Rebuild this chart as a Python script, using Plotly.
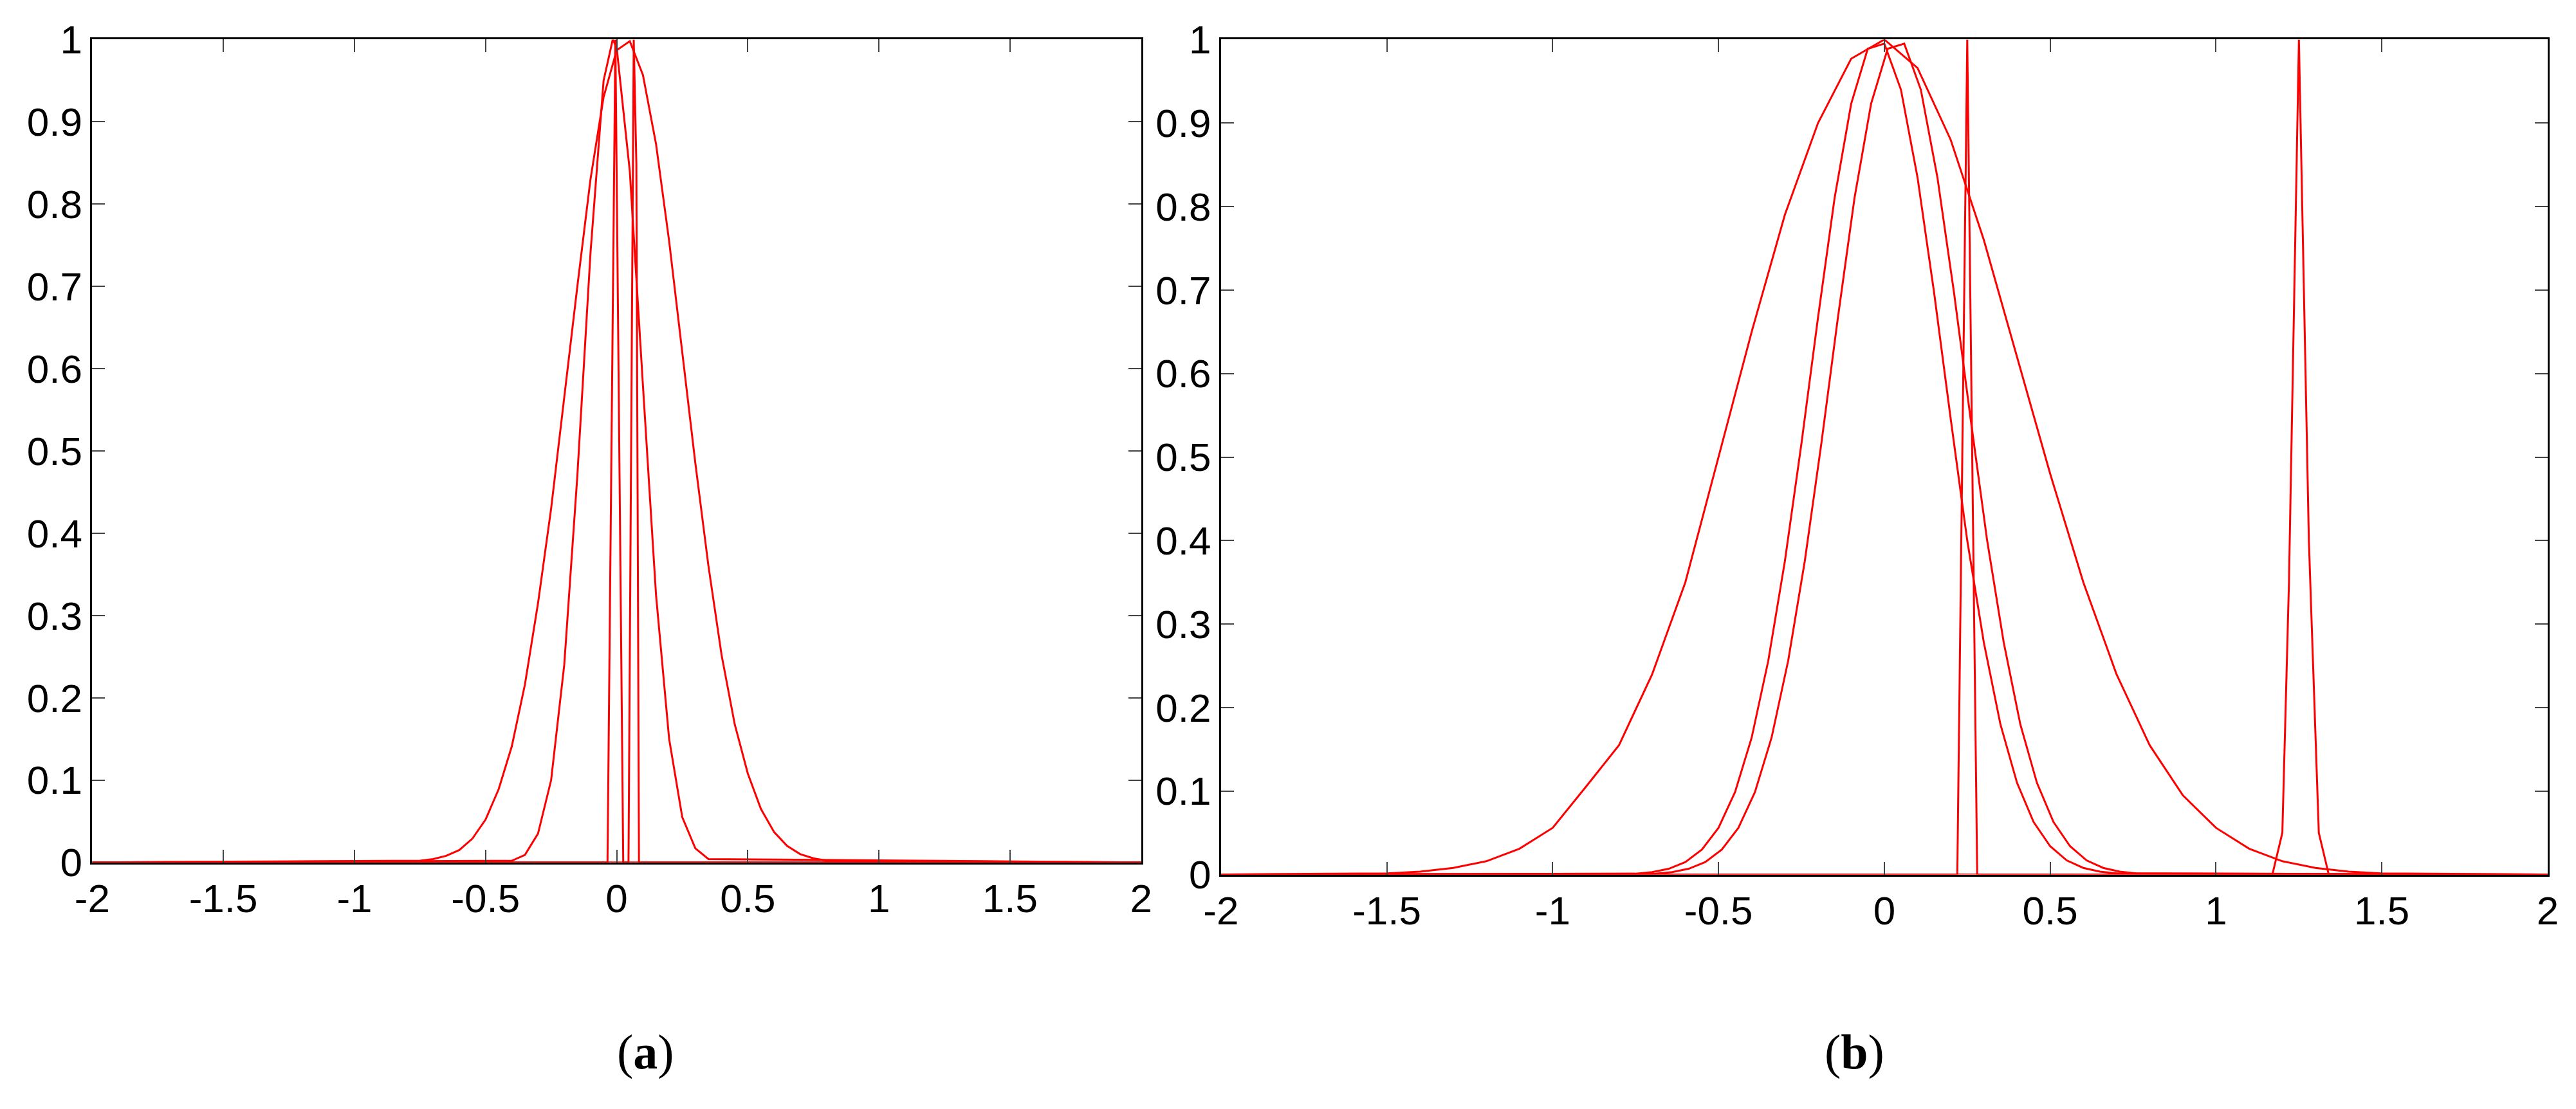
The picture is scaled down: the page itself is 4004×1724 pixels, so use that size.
import plotly.graph_objects as go

# Panel (a)
a1_x = [-2, -0.75, -0.70, -0.65, -0.60, -0.55, -0.50, -0.45, -0.40, -0.35, -0.30, -0.25, -0.20, -0.15, -0.10, -0.05, 0, 0.05, 0.10, 0.15, 0.20, 0.25, 0.30, 0.35, 0.40, 0.45, 0.50, 0.55, 0.60, 0.65, 0.70, 0.75, 0.80, 2]
a1_y = [0, 0.002, 0.004, 0.008, 0.015, 0.029, 0.052, 0.089, 0.141, 0.216, 0.315, 0.43, 0.565, 0.70, 0.83, 0.93, 0.987, 0.998, 0.957, 0.873, 0.755, 0.62, 0.485, 0.36, 0.252, 0.168, 0.108, 0.065, 0.037, 0.020, 0.010, 0.005, 0.002, 0]
a2_x = [-2, -0.40, -0.35, -0.30, -0.25, -0.20, -0.15, -0.10, -0.05, -0.015, 0, 0.05, 0.10, 0.15, 0.20, 0.25, 0.30, 0.35, 2]
a2_y = [0, 0.002, 0.009, 0.035, 0.10, 0.24, 0.47, 0.74, 0.95, 1.0, 0.99, 0.84, 0.58, 0.325, 0.15, 0.055, 0.017, 0.004, 0]
a3_x = [-2, -0.035, -0.02, -0.005, 0.01, 0.025, 2]
a3_y = [0, 0, 0.5, 1, 0.5, 0, 0]
a4_x = [-2, 0.045, 0.055, 0.065, 0.075, 0.085, 2]
a4_y = [0, 0, 0.5, 1, 0.85, 0, 0]

# Panel (b)
b1_x = [-2, -1.5, -1.4, -1.3, -1.2, -1.1, -1.0, -0.9, -0.8, -0.7, -0.6, -0.5, -0.4, -0.3, -0.2, -0.1, 0, 0.1, 0.2, 0.3, 0.4, 0.5, 0.6, 0.7, 0.8, 0.9, 1.0, 1.1, 1.2, 1.3, 1.4, 1.5, 2]
b1_y = [0, 0.0015, 0.0035, 0.008, 0.016, 0.031, 0.056, 0.105, 0.155, 0.24, 0.35, 0.50, 0.65, 0.79, 0.90, 0.977, 1.0, 0.966, 0.88, 0.76, 0.62, 0.48, 0.35, 0.24, 0.155, 0.095, 0.056, 0.031, 0.016, 0.008, 0.0035, 0.0015, 0]
b2_x = [-2, -0.80, -0.75, -0.70, -0.65, -0.60, -0.55, -0.50, -0.45, -0.40, -0.35, -0.30, -0.25, -0.20, -0.15, -0.10, -0.05, 0, 0.05, 0.10, 0.15, 0.20, 0.25, 0.30, 0.35, 0.40, 0.45, 0.50, 0.55, 0.60, 0.65, 0.70, 2]
b2_y = [0, 0.0005, 0.001, 0.003, 0.007, 0.015, 0.03, 0.056, 0.099, 0.164, 0.256, 0.375, 0.516, 0.667, 0.81, 0.923, 0.989, 0.995, 0.94, 0.835, 0.697, 0.546, 0.40, 0.278, 0.18, 0.11, 0.063, 0.034, 0.017, 0.008, 0.0036, 0.0015, 0]
b3_x = [-2, -0.74, -0.69, -0.64, -0.59, -0.54, -0.49, -0.44, -0.39, -0.34, -0.29, -0.24, -0.19, -0.14, -0.09, -0.04, 0.01, 0.06, 0.11, 0.16, 0.21, 0.26, 0.31, 0.36, 0.41, 0.46, 0.51, 0.56, 0.61, 0.66, 0.71, 0.76, 2]
b3_y = [0, 0.0005, 0.001, 0.003, 0.007, 0.015, 0.03, 0.056, 0.099, 0.164, 0.256, 0.375, 0.516, 0.667, 0.81, 0.923, 0.989, 0.995, 0.94, 0.835, 0.697, 0.546, 0.40, 0.278, 0.18, 0.11, 0.063, 0.034, 0.017, 0.008, 0.0036, 0.0015, 0]
b4_x = [-2, 0.22, 0.235, 0.25, 0.265, 0.28, 2]
b4_y = [0, 0, 0.5, 1, 0.5, 0, 0]
b5_x = [-2, 1.17, 1.2, 1.22, 1.25, 1.28, 1.31, 1.34, 2]
b5_y = [0, 0, 0.05, 0.35, 1, 0.4, 0.05, 0, 0]

x_ticks = [-2, -1.5, -1, -0.5, 0, 0.5, 1, 1.5, 2]
x_labels = ["-2", "-1.5", "-1", "-0.5", "0", "0.5", "1", "1.5", "2"]
y_ticks = [0, 0.1, 0.2, 0.3, 0.4, 0.5, 0.6, 0.7, 0.8, 0.9, 1]
y_labels = ["0", "0.1", "0.2", "0.3", "0.4", "0.5", "0.6", "0.7", "0.8", "0.9", "1"]
panel_labels = ["a", "b"]

fig = go.Figure()
line = dict(color="#ff0000", width=3)
for xs, ys in [(a1_x, a1_y), (a2_x, a2_y), (a3_x, a3_y), (a4_x, a4_y)]:
    fig.add_trace(go.Scatter(x=xs, y=ys, mode="lines", line=line, xaxis="x", yaxis="y", showlegend=False))
for xs, ys in [(b1_x, b1_y), (b2_x, b2_y), (b3_x, b3_y), (b4_x, b4_y), (b5_x, b5_y)]:
    fig.add_trace(go.Scatter(x=xs, y=ys, mode="lines", line=line, xaxis="x2", yaxis="y2", showlegend=False))

font = dict(family="Liberation Sans, Arial", size=62, color="black")
ax = dict(range=[-2, 2], tickvals=x_ticks, ticktext=x_labels, ticks="inside", ticklen=20, tickwidth=2,
          showline=True, linecolor="black", linewidth=3, mirror="ticks", showgrid=False, zeroline=False,
          tickfont=font, automargin=False)
ay = dict(range=[0, 1], tickvals=y_ticks, ticktext=y_labels, ticks="inside", ticklen=20, tickwidth=2,
          showline=True, linecolor="black", linewidth=3, mirror="ticks", showgrid=False, zeroline=False,
          tickfont=font, automargin=False)

fig.update_layout(
    width=4004, height=1724, paper_bgcolor="white", plot_bgcolor="white",
    margin=dict(l=0, r=0, t=0, b=0, autoexpand=False),
    xaxis=dict(ax, domain=[0.0338, 0.441], anchor="y"),
    yaxis=dict(ay, domain=[0.227, 0.969], anchor="x"),
    xaxis2=dict(ax, domain=[0.472, 0.987], anchor="y2"),
    yaxis2=dict(ay, domain=[0.216, 0.969], anchor="x2"),
)
for lbl, xc in zip(panel_labels, [0.237, 0.730]):
    fig.add_annotation(x=xc, y=0.03, xref="paper", yref="paper", showarrow=False,
                       text="(<b>%s</b>)" % lbl, font=dict(family="Liberation Serif", size=76, color="black"))

fig.write_html("out.html")
